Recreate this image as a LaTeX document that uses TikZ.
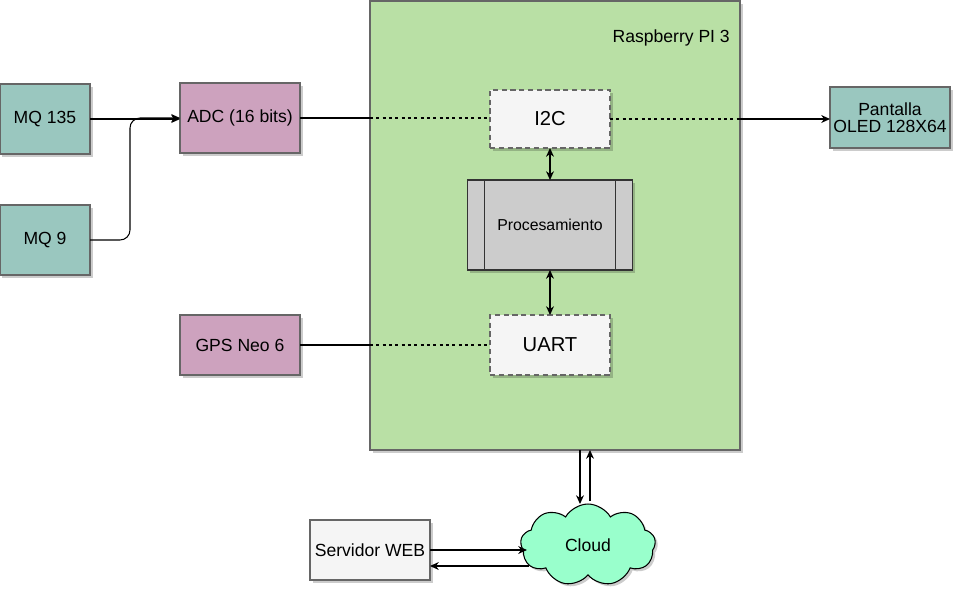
\documentclass[tikz,border=0pt]{standalone}
\usepackage{fontspec}
\setmainfont{Liberation Sans}
\usepackage{tikz}
\usetikzlibrary{shapes.symbols}
\usetikzlibrary{shadows}
\usetikzlibrary{arrows.meta}
\usepackage{xcolor}
\definecolor{sensorteal}{RGB}{154,199,191}
\definecolor{adcpink}{RGB}{205,162,190}
\definecolor{rpigreen}{RGB}{185,224,165}
\definecolor{portgray}{RGB}{245,245,245}
\definecolor{procgray}{RGB}{204,204,204}
\definecolor{cloudmint}{RGB}{153,255,204}
\definecolor{edgegray}{RGB}{102,102,102}

\tikzset{
  box/.style={draw=edgegray, line width=0.6pt, inner sep=0pt, outer sep=0pt, align=center,
    font=\fontsize{10}{12}\selectfont,
    drop shadow={shadow xshift=0.05cm, shadow yshift=-0.05cm, fill=black, opacity=0.2}},
  sensor/.style={box, fill=sensorteal, minimum width=1.8cm, minimum height=1.4cm},
  converter/.style={box, fill=adcpink, minimum width=2.4cm},
  port/.style={box, fill=portgray, dashed, dash pattern=on 3pt off 2pt, line width=0.8pt,
    minimum width=2.4cm, font=\fontsize{11.5}{13}\selectfont},
  link/.style={line width=0.6pt, -{Stealth[length=5pt,width=4.5pt]}},
  biglink/.style={line width=0.6pt, {Stealth[length=5pt,width=4.5pt]}-{Stealth[length=5pt,width=4.5pt]}},
  wire/.style={line width=0.6pt, dash pattern=on 1.8pt off 1.8pt}
}

\begin{document}
\begin{tikzpicture}
            % Gas monitor block diagram
            \useasboundingbox (0,0) rectangle (19.1,-11.82);
            \node[box, fill=rpigreen, minimum width=7.4cm, minimum height=8.98cm] (rpi) at (11.1,-4.51) {};
            \node[anchor=east, font=\fontsize{10}{12}\selectfont] (rpilabel) at ([xshift=-0.08cm,yshift=-0.74cm]rpi.north east) {Raspberry PI 3};
            \node[sensor] (mq135) at (0.9,-2.38) {MQ 135};
            \node[sensor] (mq9) at (0.9,-4.8) {MQ 9};
            \node[converter, minimum height=1.4cm] (adc) at (4.8,-2.36) {ADC (16 bits)};
            \node[converter, minimum height=1.2cm] (gps) at (4.8,-6.9) {GPS Neo 6};
            \node[port, minimum height=1.16cm] (i2c) at (11.0,-2.38) {I2C};
            \node[box, fill=procgray, draw=black!80, drop shadow={opacity=0}, minimum width=3.3cm, minimum height=1.8cm,
                  font=\fontsize{9}{11}\selectfont] (proc) at (11.0,-4.5) {Procesamiento};
            \draw[line width=0.6pt, black!80] ([xshift=0.34cm]proc.north west) -- ([xshift=0.34cm]proc.south west);
            \draw[line width=0.6pt, black!80] ([xshift=-0.34cm]proc.north east) -- ([xshift=-0.34cm]proc.south east);
            \node[port, minimum height=1.2cm] (uart) at (11.0,-6.9) {UART};
            \node[sensor, minimum width=2.4cm, minimum height=1.22cm] (oled) at (17.8,-2.35) {Pantalla\\[-2pt]OLED 128X64};
            \node[box, fill=portgray, minimum width=2.4cm, minimum height=1.2cm] (web) at (7.4,-11.0) {Servidor WEB};
            \node[box, cloud, cloud puffs=9, cloud puff arc=120, aspect=1.65, fill=cloudmint, draw=black,
                  minimum width=2.7cm, minimum height=1.64cm] (cloud) at (11.76,-10.9) {Cloud};

            \draw[link] (mq135.east) -- (mq135.east -| adc.west);
            \draw[link, rounded corners=0.2cm] (mq9.east) -- ++(0.8,0) |- (adc.west);
            \draw[line width=0.6pt] (adc.east) -- (adc.east -| rpi.west);
            \draw[wire] (adc.east -| rpi.west) -- (adc.east -| i2c.west);
            \draw[line width=0.6pt] (gps.east) -- (gps.east -| rpi.west);
            \draw[wire] (gps.east -| rpi.west) -- (uart.west);
            \draw[wire] (i2c.east) -- (i2c.east -| rpi.east);
            \draw[link] (i2c.east -| rpi.east) -- (i2c.east -| oled.west);
            \draw[biglink] (i2c.south) -- (proc.north);
            \draw[biglink] (proc.south) -- (uart.north);
            \draw[link] ([xshift=0.5cm]rpi.south) -- ([xshift=0.5cm]rpi.south |- cloud.north);
            \draw[link] ([xshift=0.7cm,yshift=0.06cm]rpi.south |- cloud.north) -- ([xshift=0.7cm]rpi.south);
            \draw[link] (web.east) -- ([xshift=0.12cm]web.east -| cloud.west);
            \draw[link] ([xshift=0.16cm,yshift=-0.32cm]web.east -| cloud.west) -- ([yshift=-0.32cm]web.east);
        \end{tikzpicture}
\end{document}
